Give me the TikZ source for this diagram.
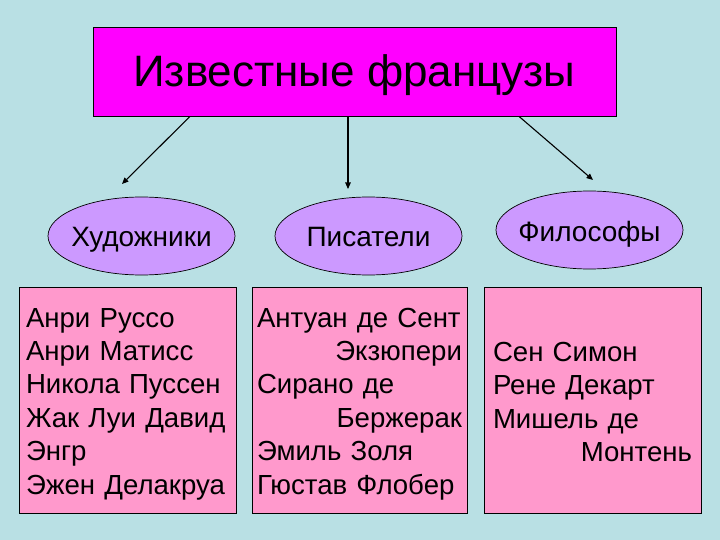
\documentclass[tikz,border=0pt]{standalone}
\usepackage{fontspec}
\setmainfont{Liberation Sans}
\usetikzlibrary{shapes.geometric,arrows.meta}
\definecolor{bgblue}{RGB}{185,224,228}
\definecolor{titlemag}{RGB}{255,0,255}
\definecolor{lilac}{RGB}{204,153,255}
\definecolor{pinkbox}{RGB}{255,153,204}

\begin{document}
\begin{tikzpicture}[x=1pt,y=-1pt,
  textsize/.style={font=\fontsize{27.6}{33.4}\selectfont},
  group/.style={ellipse,draw,fill=lilac,line width=0.7pt,minimum width=187pt,minimum height=78pt,
    inner sep=-14pt,font=\fontsize{28}{33}\selectfont,text height=24pt,text depth=2pt},
  namebox/.style={rectangle,draw,fill=pinkbox,line width=0.8pt,minimum height=226pt,align=left,
    textsize,text height=20pt},
  arr/.style={-{Triangle[length=6.5pt,width=5.5pt]},line width=1.1pt}]
\fill[bgblue] (0,0) rectangle (720,540);
\useasboundingbox (0,0) rectangle (720,540);

\node[draw,fill=titlemag,line width=0.8pt,minimum width=523pt,minimum height=89pt,
  font=\fontsize{44}{50}\selectfont,text height=40pt,text depth=9pt] (title) at (354.5,71.5) {Известные французы};

\node[group] (painters) at (141.5,236) {Художники};
\node[group] (writers) at (368.5,236) {Писатели};
\node[group] (thinkers) at (589.5,230) {Философы};

\coordinate (painttip) at (122,184);
\coordinate (writetip) at (348,189);
\coordinate (thinktip) at (593,180);

\draw[arr] ([xshift=-164.5pt]title.south) -- (painttip);
\draw[arr] ([xshift=-6.5pt]title.south) -- (writetip);
\draw[arr] ([xshift=164.5pt]title.south) -- (thinktip);

\node[namebox,text width=203pt,inner xsep=7pt,text depth=166pt] (paintlist) at (127.5,400) {Анри Руссо\\
Анри Матисс\\
Никола Пуссен\\
Жак Луи Давид\\
Энгр\\
Эжен Делакруа};

\node[namebox,text width=205pt,inner xsep=5pt,text depth=166pt] (writelist) at (359.5,400) {Антуан де Сент\\
\hspace*{\fill}Экзюпери\\
Сирано де\\
\hspace*{\fill}Бержерак\\
Эмиль Золя\\
Гюстав Флобер};

\node[namebox,text width=199pt,inner xsep=9pt,text depth=98pt] (thinklist) at (592.5,400.5) {Сен Симон\\
Рене Декарт\\
Мишель де\\
\hspace*{\fill}Монтень};
\end{tikzpicture}
\end{document}
